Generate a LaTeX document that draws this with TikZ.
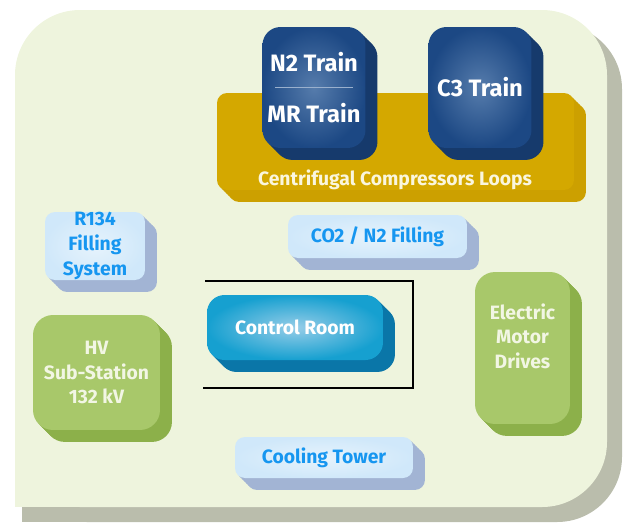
\documentclass[tikz,border=0pt]{standalone}
\usepackage{fontspec}
\setmainfont{Fira Sans}
\usetikzlibrary{shadows}

\definecolor{panelbg}{RGB}{238,244,221}
\definecolor{panelshade}{RGB}{186,189,172}
\definecolor{trainouter}{RGB}{28,72,132}
\definecolor{traininner}{RGB}{86,124,172}
\definecolor{trainside}{RGB}{22,58,108}
\definecolor{goldfront}{RGB}{212,168,0}
\definecolor{goldside}{RGB}{204,160,0}
\definecolor{goldtext}{RGB}{250,246,222}
\definecolor{paleouter}{RGB}{208,232,250}
\definecolor{paleinner}{RGB}{230,243,252}
\definecolor{paleside}{RGB}{162,180,212}
\definecolor{paletext}{RGB}{22,150,240}
\definecolor{roomouter}{RGB}{22,160,208}
\definecolor{roominner}{RGB}{150,205,232}
\definecolor{roomside}{RGB}{10,118,168}
\definecolor{greenfront}{RGB}{168,200,106}
\definecolor{greenside}{RGB}{140,176,74}
\definecolor{greentext}{RGB}{242,246,228}

\tikzset{
  extrude/.style={
    general shadow={fill=#1,shadow xshift=1.2pt,shadow yshift=-1.2pt},
    general shadow={fill=#1,shadow xshift=2.4pt,shadow yshift=-2.4pt},
    general shadow={fill=#1,shadow xshift=3.6pt,shadow yshift=-3.6pt},
    general shadow={fill=#1,shadow xshift=4.8pt,shadow yshift=-4.8pt},
    general shadow={fill=#1,shadow xshift=6pt,shadow yshift=-6pt},
    general shadow={fill=#1,shadow xshift=6.8pt,shadow yshift=-6.8pt}},
  unitbox/.style={inner sep=0pt, align=center,
    font=\bfseries\fontsize{11}{14}\selectfont},
  trainbox/.style={unitbox, rounded corners=0.36cm, extrude=trainside,
    shade, inner color=traininner, outer color=trainouter, text=white,
    minimum width=2.06cm, minimum height=2.42cm,
    font=\bfseries\fontsize{13.5}{16}\selectfont},
  loopbox/.style={unitbox, rounded corners=0.2cm, extrude=goldside,
    fill=goldfront, text=goldtext},
  palebox/.style={unitbox, rounded corners=0.2cm, extrude=paleside,
    shade, inner color=paleinner, outer color=paleouter, text=paletext},
  roombox/.style={unitbox, rounded corners=0.35cm, extrude=roomside,
    shade, inner color=roominner, outer color=roomouter, text=white},
  greenbox/.style={unitbox, rounded corners=0.4cm, extrude=greenside,
    fill=greenfront, text=greentext},
  sepline/.style={draw=traininner!60!white, line width=0.8pt},
  bracket/.style={draw=black, line width=1.4pt}
}

\begin{document}
\begin{tikzpicture}[x=0.02cm, y=-0.02cm]
    \useasboundingbox (0,0) rectangle (626,525);

    % Site panel with its shadow
    \fill[panelshade, rounded corners=1.3cm] (22,24) rectangle (622,522);
    \fill[panelshade] (22,400) rectangle (200,522);
    \fill[panelbg, rounded corners=1.3cm] (15,10) rectangle (607,507);
    \fill[panelbg] (15,400) rectangle (200,507);

    % Compressor loops and trains
    \node[loopbox, minimum width=7.14cm, minimum height=1.94cm] (loops) at (395.5,141.5) {};
    \node[text=goldtext, font=\bfseries\fontsize{11}{14}\selectfont] (loopslbl) at (395,180) {Centrifugal Compressors Loops};
    \node[trainbox] (n2) at (314,87.5) {N2 Train\\[13pt]MR Train};
    \draw[sepline] ([xshift=-0.78cm]n2.center) -- ([xshift=0.78cm]n2.center);
    \node[trainbox] (c3) at (480,87.5) {C3 Train};

    % Filling units
    \node[palebox, minimum width=2.0cm, minimum height=1.36cm] (r134) at (95,246) {R134\\Filling\\System};
    \node[palebox, minimum width=3.58cm, minimum height=0.86cm] (co2) at (377.5,236.5) {CO2 / N2 Filling};

    % Control room and its wall
    \draw[bracket] (205,281) -- (413,281) -- (413,388) -- (203,388);
    \node[roombox, minimum width=3.52cm, minimum height=1.3cm] (ctrl) at (295,327.5) {Control Room};

    % Power units
    \node[greenbox, minimum width=2.54cm, minimum height=2.3cm] (hv) at (96.5,372.5) {HV\\Sub-Station\\132 kV};
    \node[greenbox, minimum width=1.9cm, minimum height=3.04cm,
          label={[text=greentext, align=center, yshift=0.24cm,
                  font=\bfseries\fontsize{11}{14}\selectfont]center:Electric\\Motor\\Drives}] (emd) at (522.5,348) {};

    % Cooling
    \node[palebox, minimum width=3.56cm, minimum height=0.82cm] (cool) at (324,457.5) {Cooling Tower};
\end{tikzpicture}
\end{document}
